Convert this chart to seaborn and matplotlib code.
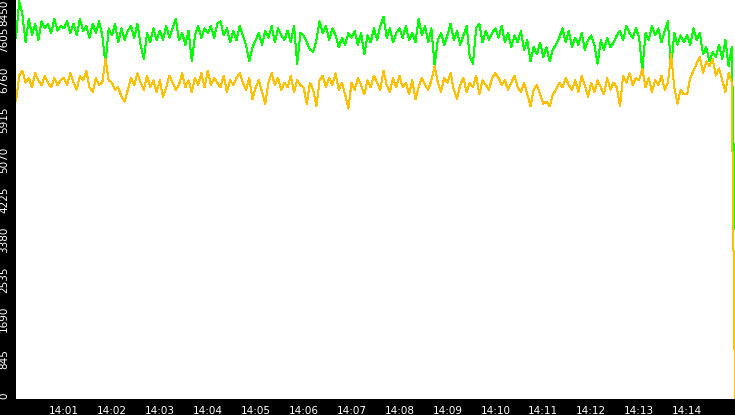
import pandas as pd
import numpy as np
import matplotlib
matplotlib.use('Agg')
import matplotlib.pyplot as plt
import matplotlib.dates as mdates
import seaborn as sns

# one value every 4 s from 14:00:00 to 14:15:00, one row per minute
green_vals = [
    7650, 8420, 8150, 7550, 8050, 7700, 7950, 7600, 8000, 7850, 7950, 7750, 8050, 7800, 7900,
    7850, 8000, 7750, 7950, 7700, 8050, 7800, 7900, 7650, 7950, 7750, 8000, 7700, 7100, 7850,
    7700, 7950, 7550, 7850, 7600, 7800, 7900, 7650, 7950, 7500, 7200, 7750, 7550, 7850, 7600,
    7800, 7600, 7900, 7650, 7850, 8050, 7600, 7750, 7500, 7800, 7150, 7700, 7900, 7650, 7850,
    7750, 7900, 7650, 7950, 8000, 7700, 7850, 7550, 7800, 7600, 7900, 7700, 7500, 7150, 7450,
    7600, 7750, 7500, 7800, 7650, 7900, 7550, 7850, 7700, 7600, 7800, 7550, 7900, 7100, 7750,
    7700, 7550, 7400, 7350, 7600, 8000, 7750, 7900, 7600, 7850, 7700, 7450, 7650, 7500, 7750,
    7650, 7800, 7500, 7750, 7300, 7700, 7550, 7850, 7600, 7900, 8100, 7650, 7850, 7550, 7750,
    7850, 7650, 7900, 7600, 7750, 7550, 8050, 7700, 7900, 7550, 7850, 7050, 7600, 7750, 7500,
    7700, 7950, 7600, 7800, 7500, 7700, 7900, 7250, 7100, 7850, 7950, 7550, 7800, 7600, 7750,
    7850, 7650, 7900, 7550, 7750, 7450, 7700, 7550, 7800, 7400, 7600, 7150, 7450, 7300, 7550,
    7250, 7450, 7150, 7400, 7500, 7650, 7850, 7550, 7800, 7450, 7650, 7500, 7750, 7400, 7600,
    7700, 7500, 7100, 7600, 7400, 7650, 7450, 7550, 7700, 7800, 7600, 7900, 7750, 7650, 7850,
    7650, 6950, 7750, 7600, 7900, 7700, 7850, 7550, 7800, 8000, 7000, 7750, 7500, 7700, 7550,
    7700, 7500, 7850, 7600, 7750, 7300, 7450, 7150, 7350, 7250, 7500, 7200, 7600, 7050, 7450,
    3600,
]
orange_vals = [
    6300, 6850, 6950, 6700, 6800, 6600, 6900, 6750, 6650, 6850, 6700, 6600, 6800, 6650, 6750,
    6800, 6650, 6900, 6700, 6550, 6850, 6750, 6950, 6600, 6500, 6800, 6650, 6700, 7200, 6750,
    6700, 6550, 6600, 6400, 6300, 6550, 6800, 6650, 6900, 6700, 6550, 6850, 6600, 6750, 6500,
    6750, 6400, 6600, 6850, 6700, 6550, 6650, 6900, 6600, 6750, 6500, 6800, 6650, 6900, 6600,
    6950, 6650, 6800, 6700, 6600, 6850, 6500, 6750, 6650, 6800, 6900, 6700, 6550, 6800, 6350,
    6600, 6750, 6500, 6250, 6700, 6900, 6650, 6800, 6550, 6700, 6600, 6850, 6500, 6750, 6650,
    6600, 6250, 6700, 6550, 6200, 6750, 6850, 6600, 6800, 6650, 6900, 6550, 6700, 6450, 6150,
    6700, 6550, 6800, 6650, 6450, 6750, 6600, 6850, 6700, 6550, 6950, 6650, 6500, 6800, 6600,
    6850, 6600, 6700, 6450, 6750, 6350, 6600, 6800, 6650, 6550, 6750, 7050, 6700, 6500, 6800,
    6700, 6900, 6550, 6350, 6650, 6800, 6500, 6700, 6600, 6850, 6450, 6750, 6650, 6550, 6800,
    6900, 6800, 6650, 6750, 6550, 6700, 6850, 6600, 6500, 6700, 6450, 6200, 6550, 6650, 6450,
    6250, 6300, 6200, 6450, 6550, 6700, 6600, 6800, 6650, 6550, 6750, 6500, 6850, 6650, 6400,
    6700, 6500, 6750, 6600, 6450, 6800, 6550, 6700, 6600, 6200, 6850, 6700, 6900, 6650, 6800,
    6750, 7000, 6600, 6800, 6500, 6750, 6650, 6850, 6550, 6700, 7300, 6600, 6250, 6550, 6450,
    6450, 6800, 6950, 7100, 7250, 6900, 7150, 7050, 7200, 6850, 7000, 6750, 6500, 6900, 6700,
    0,
]
y_ticks = [0, 845, 1690, 2535, 3380, 4225, 5070, 5915, 6760, 7605, 8450]

times = pd.date_range('2024-01-01 14:00:00', periods=len(green_vals), freq='4s')
df = pd.DataFrame({'time': times, 'green': green_vals, 'orange': orange_vals})

sns.set_style('white')
plt.rcParams['font.family'] = ['DejaVu Sans']

fig = plt.figure(figsize=(7.35, 4.15), dpi=100, facecolor='black')
ax = fig.add_axes([16/735, 16/415, 719/735, 399/415])
ax.set_facecolor('white')

sns.lineplot(data=df, x='time', y='green', color='#00ff00', linewidth=0.72,
             antialiased=False, ax=ax)
sns.lineplot(data=df, x='time', y='orange', color='#ffc000', linewidth=0.72,
             antialiased=False, ax=ax)

ax.set_xlim(times[0], times[-1])
ax.set_ylim(0, 8450)
ax.set_yticks(y_ticks)
ax.set_yticklabels([str(v) for v in y_ticks], rotation=90, va='center')
ax.get_yticklabels()[-1].set_va('top')
ax.get_yticklabels()[0].set_va('bottom')

ax.xaxis.set_major_locator(mdates.MinuteLocator(byminute=range(1, 15)))
ax.xaxis.set_major_formatter(mdates.DateFormatter('%H:%M'))

for s in ax.spines.values():
    s.set_visible(False)
ax.tick_params(axis='both', colors='white', labelcolor='white', labelsize=7.5,
               direction='out', length=4, width=1, pad=1)
ax.set_xlabel('')
ax.set_ylabel('')

fig.savefig('out.png', dpi=100, facecolor='black')
